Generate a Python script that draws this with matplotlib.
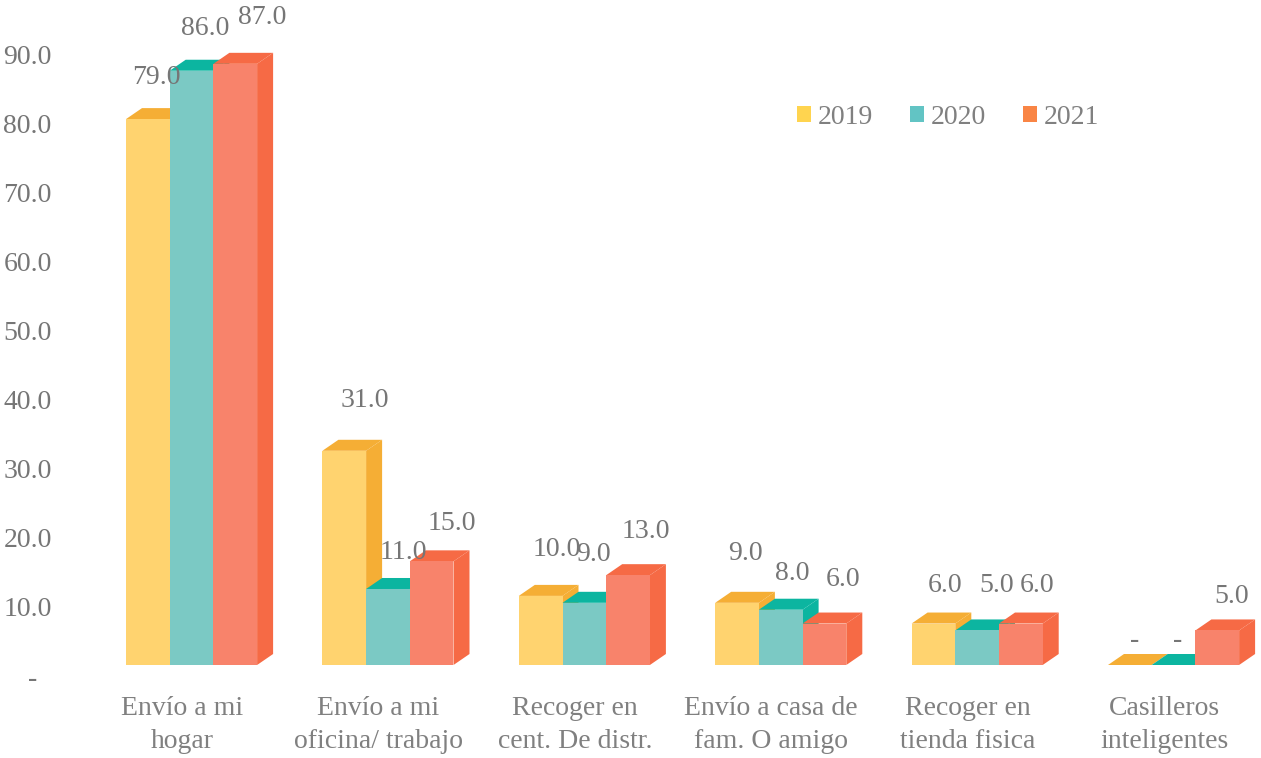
import matplotlib
matplotlib.use("Agg")
import matplotlib.pyplot as plt
from matplotlib.patches import Polygon, Patch

categories = ["Envío a mi\nhogar", "Envío a mi\noficina/ trabajo", "Recoger en\ncent. De distr.",
              "Envío a casa de\nfam. O amigo", "Recoger en\ntienda fisica", "Casilleros\ninteligentes"]
years = ["2019", "2020", "2021"]
v2019 = [79, 31, 10, 9, 6, 0]
v2020 = [86, 11, 9, 8, 5, 0]
v2021 = [87, 15, 13, 6, 6, 5]
yticks = [0, 10, 20, 30, 40, 50, 60, 70, 80, 90]

# label offsets from the bar's front-top centre, in pixels (right, up)
off2019 = [(9, 42), (21, 50), (16, 46), (8, 49), (12, 38), (5, 24)]
off2020 = [(14, 42), (15, 36), (9, 48), (12, 36), (19, 45), (4, 24)]
off2021 = [(27, 46), (20, 38), (18, 44), (19, 44), (16, 38), (14, 34)]

W, H = 1261, 758
PX_CAT = 196.4
PX_UNIT = 6.91
X0, Y0 = 182, 676
L, B = 60, 690

plt.rcParams["font.family"] = ["Liberation Serif", "DejaVu Serif"]
FS = 20
TXT = "#808080"
LBL = "#767676"

fig = plt.figure(figsize=(W / 100, H / 100), dpi=100, facecolor="white")
ax = fig.add_axes([L / W, 1 - B / H, (W - L) / W, B / H])
ax.set_xlim((L - X0) / PX_CAT, (W - X0) / PX_CAT)
ax.set_ylim((Y0 - B) / PX_UNIT, Y0 / PX_UNIT)

bw = 43.7 / PX_CAT
start = -56 / PX_CAT
dx = 16 / PX_CAT
dy = 11 / PX_UNIT
base = 11 / PX_UNIT

series = [(v2019, off2019, "#FFD36F", "#F5AE35", "#FFD44F"),
          (v2020, off2020, "#7BC9C4", "#0CB5A0", "#62C4C4"),
          (v2021, off2021, "#F8836B", "#F66A45", "#F98545")]

z = 2
for i in range(len(categories)):
    for k, (vals, offs, front, dark, _) in enumerate(series):
        v = vals[i]
        x = i + start + k * bw
        top = base + v
        ax.add_patch(Polygon([(x + bw, base), (x + bw + dx, base + dy), (x + bw + dx, top + dy), (x + bw, top)],
                             closed=True, fc=dark, ec="none", zorder=z))
        ax.add_patch(Polygon([(x, top), (x + dx, top + dy), (x + bw + dx, top + dy), (x + bw, top)],
                             closed=True, fc=dark, ec="none", zorder=z))
        ax.bar(x, v, width=bw, bottom=base, align="edge", color=front, linewidth=0, zorder=z + 0.5)
        z += 1

for i in range(len(categories)):
    for k, (vals, offs, *_rest) in enumerate(series):
        v = vals[i]
        x = i + start + (k + 0.5) * bw
        s = f"{v:.1f}" if v else "-"
        ax.annotate(s, (x, base + v), xytext=(offs[i][0] * 0.72, offs[i][1] * 0.72),
                    textcoords="offset points", ha="center", va="center", fontsize=FS,
                    color=LBL, zorder=100, annotation_clip=False)

ax.set_xticks(range(len(categories)))
ax.set_xticklabels(categories, fontsize=FS, color=TXT, linespacing=1.39)
ax.set_yticks(yticks)
ax.set_yticklabels([f"{t:.1f}" if t else "-  " for t in yticks], fontsize=FS, color=LBL)
ax.tick_params(axis="both", length=0)
ax.tick_params(axis="x", pad=4.5)
ax.tick_params(axis="y", pad=6)
for s in ax.spines.values():
    s.set_visible(False)

handles = [Patch(fc=c[4], ec="none", label=y) for c, y in zip(series, years)]
ax.legend(handles=handles, ncol=3, frameon=False, fontsize=FS, labelcolor=TXT,
          handlelength=0.5, handleheight=0.5, handletextpad=0.25, columnspacing=1.32,
          borderpad=0, borderaxespad=0,
          loc="center left", bbox_to_anchor=((797 - L) / (W - L), (B - 117) / B))

fig.savefig("out.png", dpi=100, facecolor="white")
